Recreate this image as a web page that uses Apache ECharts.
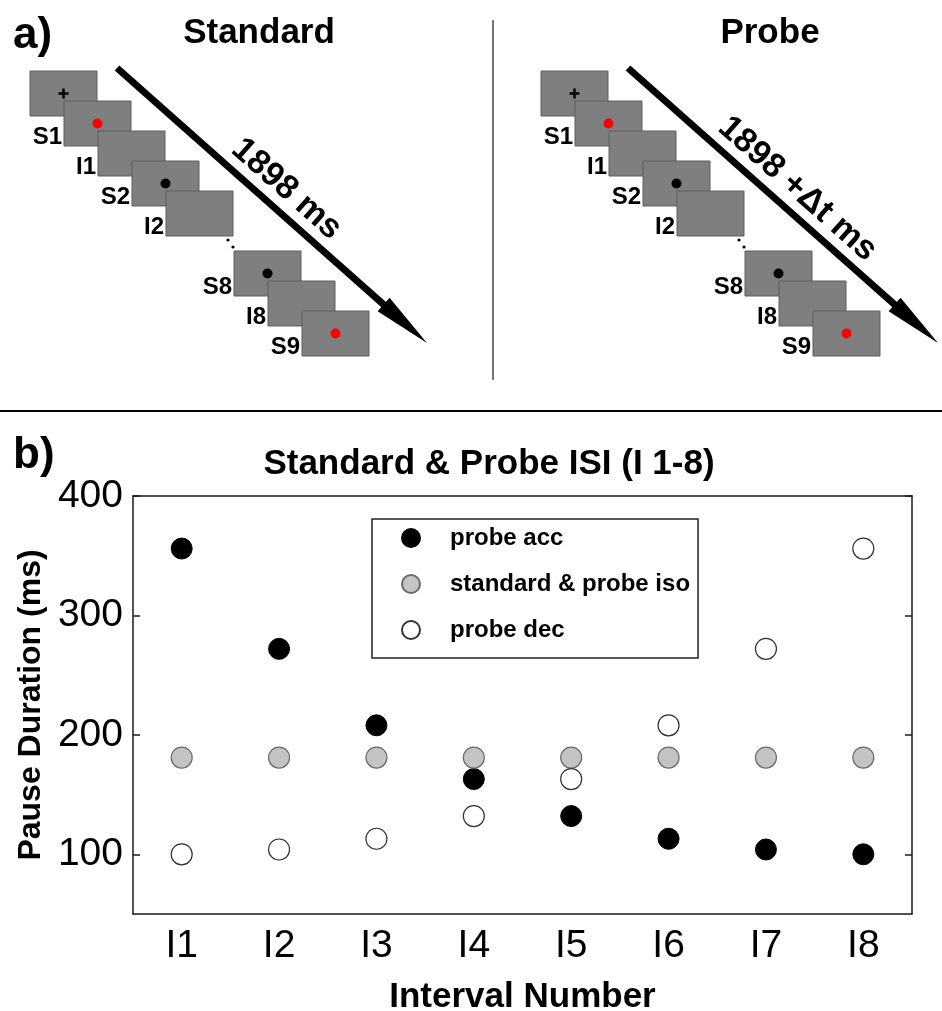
<!DOCTYPE html>
<html><head><meta charset="utf-8">
<script src="https://cdn.jsdelivr.net/npm/echarts@6/dist/echarts.min.js"></script>
<style>html,body{margin:0;padding:0;background:#fff}#c{width:942px;height:1011px}</style>
</head><body><div id="c"></div>
<script>
// ---- data ----
const intervals = ['I1','I2','I3','I4','I5','I6','I7','I8'];
const probeAcc = [356, 272, 208, 163, 132, 113, 104, 100];
const standardProbeIso = [181, 181, 181, 181, 181, 181, 181, 181];
const probeDec = [100, 104, 113, 132, 163, 208, 272, 356];
const yTicks = [100, 200, 300, 400];
const seriesNames = ['probe acc', 'standard & probe iso', 'probe dec'];
const panelTitles = ['Standard', 'Probe'];
const durationTexts = ['1898 ms', '1898 +\u0394t ms'];
const frameLabels = ['', 'S1', 'I1', 'S2', 'I2', 'S8', 'I8', 'S9'];
const frameMarks = ['plus', 'red', '', 'black', '', 'black', '', 'red'];
const frameSteps = [0, 1, 2, 3, 4, 6, 7, 8];

const FF = '"Liberation Sans", Arial, Helvetica, sans-serif';

// ---- diagram (panel a) ----
function txt(x, y, text, size, align, valign, extra) {
  return Object.assign({
    type: 'text', x: x, y: y,
    style: { text: text, fontSize: size, fontWeight: 'bold', fontFamily: FF, fill: '#000',
      align: align, verticalAlign: valign, textAlign: align, textVerticalAlign: valign }
  }, extra || {});
}
const G = [];
G.push(txt(13, 36, 'a)', 44, 'left', 'middle'));
G.push(txt(13, 456, 'b)', 44, 'left', 'middle'));
G.push({ type: 'line', shape: { x1: 0, y1: 411, x2: 942, y2: 411 }, style: { stroke: '#000', lineWidth: 2 } });
G.push({ type: 'line', shape: { x1: 493, y1: 20, x2: 493, y2: 380 }, style: { stroke: '#444', lineWidth: 1.5 } });
const panelDx = [0, 511];
const titleX = [259, 770];
for (let p = 0; p < 2; p++) {
  const dx = panelDx[p];
  G.push(txt(titleX[p], 33, panelTitles[p], 35, 'center', 'middle'));
  const bx = 30 + dx, by = 71, sx = 34, sy = 30, w = 67, h = 45;
  for (let i = 0; i < frameSteps.length; i++) {
    const rx = bx + frameSteps[i] * sx, ry = by + frameSteps[i] * sy;
    G.push({ type: 'rect', shape: { x: rx, y: ry, width: w, height: h },
      style: { fill: '#7f7f7f', stroke: '#5e5e5e', lineWidth: 1 } });
    const cx = rx + w / 2, cy = ry + h / 2;
    if (frameMarks[i] === 'plus') {
      G.push({ type: 'line', shape: { x1: cx - 5, y1: cy, x2: cx + 5, y2: cy }, style: { stroke: '#000', lineWidth: 2.5 } });
      G.push({ type: 'line', shape: { x1: cx, y1: cy - 5, x2: cx, y2: cy + 5 }, style: { stroke: '#000', lineWidth: 2.5 } });
    } else if (frameMarks[i] === 'red' || frameMarks[i] === 'black') {
      G.push({ type: 'circle', shape: { cx: cx, cy: cy, r: 5 }, style: { fill: frameMarks[i] === 'red' ? '#f00' : '#000' } });
    }
    if (frameLabels[i]) {
      G.push(txt(rx - 2, ry + h + 3, frameLabels[i], 24, 'right', 'bottom'));
    }
  }
  // ellipsis dots
  G.push({ type: 'circle', shape: { cx: 228 + dx, cy: 240, r: 1.6 }, style: { fill: '#000' } });
  G.push({ type: 'circle', shape: { cx: 233 + dx, cy: 247, r: 1.6 }, style: { fill: '#000' } });
  // arrow
  const x0 = 117 + dx, y0 = 68, x1 = 427 + dx, y1 = 343;
  const L = Math.hypot(x1 - x0, y1 - y0), ux = (x1 - x0) / L, uy = (y1 - y0) / L;
  const nx = uy, ny = -ux;
  const hb = 58, hw = 9;
  const bxh = x1 - ux * hb, byh = y1 - uy * hb;
  G.push({ type: 'line', shape: { x1: x0, y1: y0, x2: bxh + ux * 2, y2: byh + uy * 2 }, style: { stroke: '#000', lineWidth: 7 } });
  G.push({ type: 'polygon', shape: { points: [[x1, y1], [bxh + nx * hw, byh + ny * hw], [bxh - nx * hw, byh - ny * hw]] }, style: { fill: '#000' } });
  const along = 207, off = 22;
  G.push(txt(x0 + ux * along + nx * off, y0 + uy * along + ny * off, durationTexts[p], 34, 'center', 'middle',
    { rotation: -Math.atan2(y1 - y0, x1 - x0) }));
}

// ---- chart (panel b) ----
const axisLineStyle = { color: '#1a1a1a', width: 1.5 };
const chart = echarts.init(document.getElementById('c'), null, { renderer: 'canvas' });
chart.setOption({
  backgroundColor: '#fff',
  animation: false,
  textStyle: { fontFamily: FF },
  title: {
    text: 'Standard & Probe ISI (I 1-8)',
    left: 489, top: 447, textAlign: 'center', padding: 0,
    textStyle: { fontSize: 35, fontWeight: 'bold', color: '#000', fontFamily: FF }
  },
  legend: {
    orient: 'vertical', left: 372, top: 519,
    padding: [7, 8, 16, 29],
    itemWidth: 68, itemHeight: 18, itemGap: 22,
    icon: 'circle',
    borderColor: '#222', borderWidth: 1.5,
    data: seriesNames,
    textStyle: { fontSize: 24, fontWeight: 'bold', color: '#000', fontFamily: FF, lineHeight: 24 }
  },
  grid: { left: 133, right: 30, top: 496, bottom: 97, containLabel: false, outerBoundsMode: 'none' },
  xAxis: [{
    type: 'category', data: intervals, boundaryGap: true, position: 'bottom',
    name: 'Interval Number', nameLocation: 'middle', nameGap: 66,
    nameTextStyle: { fontSize: 35, fontWeight: 'bold', color: '#000', fontFamily: FF },
    axisLine: { lineStyle: axisLineStyle },
    axisTick: { inside: true, length: 7, alignWithLabel: true, lineStyle: axisLineStyle },
    axisLabel: { fontSize: 39, color: '#000', margin: 13, fontFamily: FF },
    splitLine: { show: false }
  }, {
    type: 'category', data: intervals, boundaryGap: true, position: 'top',
    axisLine: { lineStyle: axisLineStyle },
    axisTick: { inside: true, length: 7, alignWithLabel: true, lineStyle: axisLineStyle },
    axisLabel: { show: false }, splitLine: { show: false }
  }],
  yAxis: [{
    type: 'value', min: 50, max: 400, position: 'left',
    name: 'Pause Duration (ms)', nameLocation: 'middle', nameGap: 85,
    nameTextStyle: { fontSize: 32, fontWeight: 'bold', color: '#000', fontFamily: FF },
    axisLine: { show: true, lineStyle: axisLineStyle },
    axisTick: { show: true, inside: true, length: 7, customValues: yTicks, lineStyle: axisLineStyle },
    axisLabel: { fontSize: 39, color: '#000', margin: 10, customValues: yTicks, fontFamily: FF },
    splitLine: { show: false }
  }, {
    type: 'value', min: 50, max: 400, position: 'right',
    axisLine: { show: true, lineStyle: axisLineStyle },
    axisTick: { show: true, inside: true, length: 7, customValues: yTicks, lineStyle: axisLineStyle },
    axisLabel: { show: false, customValues: yTicks },
    splitLine: { show: false }
  }],
  series: [{
    name: seriesNames[0], type: 'scatter', xAxisIndex: 0, yAxisIndex: 0,
    symbol: 'circle', symbolSize: 21, data: probeAcc,
    itemStyle: { color: '#000', borderColor: '#000', borderWidth: 1, opacity: 1 }
  }, {
    name: seriesNames[1], type: 'scatter', xAxisIndex: 0, yAxisIndex: 0,
    symbol: 'circle', symbolSize: 21, data: standardProbeIso,
    itemStyle: { color: '#c4c4c4', borderColor: '#6a6a6a', borderWidth: 1.2, opacity: 1 }
  }, {
    name: seriesNames[2], type: 'scatter', xAxisIndex: 0, yAxisIndex: 0,
    symbol: 'circle', symbolSize: 21, data: probeDec,
    itemStyle: { color: '#fff', borderColor: '#333', borderWidth: 1.2, opacity: 1 }
  }],
  graphic: { elements: G }
});
</script></body></html>
